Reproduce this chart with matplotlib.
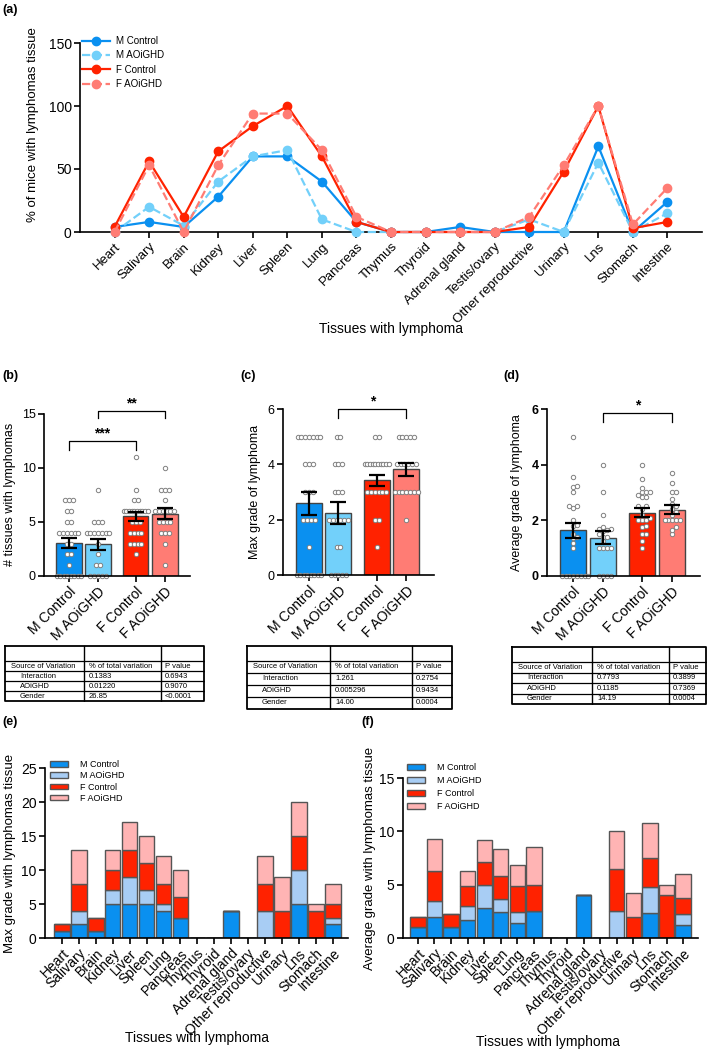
import numpy as np
import matplotlib
matplotlib.use("Agg")
import matplotlib.pyplot as plt
from matplotlib.patches import Patch

plt.rcParams['font.family'] = ['Liberation Sans', 'DejaVu Sans']

# ---- data ----
tissues = ["Heart", "Salivary", "Brain", "Kidney", "Liver", "Spleen", "Lung", "Pancreas",
           "Thymus", "Thyroid", "Adrenal gland", "Testis/ovary", "Other reproductive",
           "Urinary", "Lns", "Stomach", "Intestine"]
groups = ["M Control", "M AOiGHD", "F Control", "F AOiGHD"]

# (a) % of mice with lymphoma per tissue
pct_m_ctrl = [4, 8, 4, 28, 60, 60, 40, 8, 0, 0, 4, 0, 0, 0, 68, 0, 24]
pct_m_aoi = [0, 20, 5, 40, 60, 65, 10, 0, 0, 0, 0, 0, 10, 0, 55, 0, 15]
pct_f_ctrl = [4, 56, 12, 64, 84, 100, 60, 8, 0, 0, 0, 0, 4, 48, 100, 3, 8]
pct_f_aoi = [0, 53, 0, 53, 94, 94, 65, 12, 0, 0, 0, 0, 12, 53, 100, 6, 35]

# (b) number of tissues with lymphomas
b_mean = [3.05, 2.95, 5.53, 5.78]
b_sem = [0.5, 0.52, 0.43, 0.5]
b_m_ctrl = [7, 7, 7, 6, 6, 5, 5, 4, 4, 4, 4, 4, 4, 3, 3, 2, 2, 1, 0, 0, 0, 0, 0, 0, 0, 0]
b_m_aoi = [8, 5, 5, 5, 4, 4, 4, 4, 4, 4, 4, 3, 2, 1, 1, 0, 0, 0, 0, 0]
b_f_ctrl = [11, 8, 7, 7, 6, 6, 6, 6, 6, 6, 6, 6, 6, 6, 5, 5, 5, 4, 4, 4, 4, 3, 3, 3, 3, 2]
b_f_aoi = [10, 8, 8, 8, 7, 6, 6, 6, 6, 6, 6, 5, 5, 5, 5, 4, 4, 4, 3, 1]

# (c) max grade of lymphoma
c_mean = [2.59, 2.25, 3.43, 3.82]
c_sem = [0.41, 0.39, 0.2, 0.23]
c_m_ctrl = [5] * 7 + [4] * 3 + [3] * 3 + [2] * 4 + [1] + [0] * 8
c_m_aoi = [5] * 2 + [4] * 3 + [3] * 3 + [2] * 6 + [1] * 2 + [0] * 5
c_f_ctrl = [5] * 2 + [4] * 10 + [3] * 6 + [2] * 2 + [1]
c_f_aoi = [5] * 5 + [4] * 6 + [3] * 7 + [2]

# (d) average grade of lymphoma
d_mean = [1.64, 1.37, 2.28, 2.38]
d_sem = [0.28, 0.23, 0.16, 0.17]
d_m_ctrl = [5.0, 3.55, 3.25, 3.2, 3.0, 2.5, 2.5, 2.45, 2.0, 1.85, 1.8, 1.5, 1.4, 1.35,
            1.2, 1.0, 0, 0, 0, 0, 0, 0, 0, 0]
d_m_aoi = [4.0, 3.0, 2.2, 1.75, 1.7, 1.7, 1.65, 1.6, 1.5, 1.4, 1.4, 1.25, 1.0, 1.0,
           1.0, 1.0, 0, 0, 0, 0]
d_f_ctrl = [4.0, 3.5, 3.15, 3.0, 3.0, 3.0, 2.9, 2.85, 2.85, 2.5, 2.5, 2.4, 2.2, 2.1,
            2.0, 2.0, 2.0, 1.8, 1.75, 1.5, 1.5, 1.25, 1.0]
d_f_aoi = [3.7, 3.33, 3.0, 3.0, 2.75, 2.6, 2.5, 2.4, 2.3, 2.2, 2.0, 2.0, 2.0, 2.0,
           2.0, 1.75, 1.67, 1.5]

# two-way ANOVA tables
tbl_header = ["Source of Variation", "% of total variation", "P value"]
tbl_b = [["Interaction", "0.1383", "0.6943"], ["AOiGHD", "0.01220", "0.9070"],
         ["Gender", "26.85", "<0.0001"]]
tbl_c = [["Interaction", "1.261", "0.2754"], ["AOiGHD", "0.005296", "0.9434"],
         ["Gender", "14.00", "0.0004"]]
tbl_d = [["Interaction", "0.7793", "0.3899"], ["AOiGHD", "0.1185", "0.7369"],
         ["Gender", "14.19", "0.0004"]]

# (e) max grade, stacked
e_m_ctrl = [1, 2, 1, 5, 5, 5, 4, 3, 0, 0, 4, 0, 0, 0, 5, 0, 2]
e_m_aoi = [0, 2, 0, 2, 4, 2, 1, 0, 0, 0, 0, 0, 4, 0, 5, 0, 1]
e_f_ctrl = [1, 4, 2, 3, 4, 4, 3, 3, 0, 0, 0, 0, 4, 4, 5, 4, 2]
e_f_aoi = [0, 5, 0, 3, 4, 4, 4, 4, 0, 0, 0, 0, 4, 5, 5, 1, 3]

# (f) average grade, stacked
f_m_ctrl = [1, 2, 1, 1.67, 2.85, 2.45, 1.45, 2.5, 0, 0, 4, 0, 0, 0, 2.35, 0, 1.25]
f_m_aoi = [0, 1.5, 0, 1.3, 2.1, 1.2, 1.0, 0, 0, 0, 0, 0, 2.5, 0, 2.4, 0, 1.0]
f_f_ctrl = [1, 2.75, 1.25, 1.9, 2.2, 2.2, 2.4, 2.5, 0, 0, 0, 0, 4.0, 2.0, 2.75, 4.0, 1.5]
f_f_aoi = [0, 3.05, 0, 1.45, 2.05, 2.45, 1.95, 3.5, 0, 0, 0, 0, 3.5, 2.2, 3.3, 1.0, 2.25]

# ---- colours ----
c_mc, c_ma, c_fc, c_fa = "#0A90F0", "#72D0FA", "#FF2200", "#FF7C74"
bar_cols = [c_mc, c_ma, c_fc, c_fa]
stack_cols = ["#0A90F0", "#A8CDF4", "#FF2200", "#FFB4B4"]

W, H = 709, 1049
fig = plt.figure(figsize=(W / 100, H / 100), dpi=100)


def px_axes(l, t, r, b):
    return fig.add_axes([l / W, 1 - b / H, (r - l) / W, (b - t) / H])


def ftext(x, y, s, **kw):
    fig.text(x / W, 1 - y / H, s, **kw)


def style(ax, lw=1.2, size=9, bold=False):
    for s in ["top", "right"]:
        ax.spines[s].set_visible(False)
    for s in ["left", "bottom"]:
        ax.spines[s].set_linewidth(lw)
    ax.tick_params(width=lw, length=4, labelsize=size, pad=2)
    if bold:
        for lab in ax.get_yticklabels():
            lab.set_fontweight("bold")


def rot_labels(ax, labels, size):
    ax.set_xticklabels(labels, rotation=45, ha="right", va="top",
                       rotation_mode="anchor", fontsize=size)


# ---- (a) line chart ----
ax = px_axes(80, 43, 702, 232)
x = np.arange(len(tissues))
lines = [(pct_m_ctrl, c_mc, "-"), (pct_m_aoi, c_ma, "--"),
         (pct_f_ctrl, c_fc, "-"), (pct_f_aoi, c_fa, "--")]
for (vals, col, ls), lab in zip(lines, groups):
    ax.plot(x, vals, ls, color=col, lw=1.6, marker="o", ms=6, clip_on=False, label=lab,
            zorder=3)
ax.set_xlim(-1, 17)
ax.set_ylim(0, 150)
ax.set_yticks([0, 50, 100, 150])
ax.set_xticks(x)
style(ax, size=10)
rot_labels(ax, tissues, 9.5)
ax.legend(loc="upper left", bbox_to_anchor=(82 / W, 1 - 36 / H), bbox_transform=fig.transFigure,
          frameon=False, fontsize=7, handlelength=2.9, handletextpad=0.6, labelspacing=0.45,
          borderpad=0, borderaxespad=0)
ftext(33, 125, "% of mice with lymphomas tissue", rotation=90, ha="center", va="center",
      fontsize=9.5)
ftext(391, 329, "Tissues with lymphoma", ha="center", va="center", fontsize=10)


# ---- (b)-(d) bar + dot plots ----
def tie_spread(ax, xc, vals, dd=3.8, maxw=12.0):
    T = ax.transData
    xs, ys = [], []
    for v in sorted(set(vals), reverse=True):
        n = vals.count(v)
        step = dd if n < 2 else min(dd, 2 * maxw / (n - 1))
        px, py = T.transform((xc, v))
        for i in range(n):
            xs.append(px + (i - (n - 1) / 2) * step)
            ys.append(py)
    return T.inverted().transform(np.column_stack([xs, ys]))


def swarm(ax, xc, vals, dd=3.8):
    T = ax.transData
    placed = []
    for v in sorted(vals):
        px, py = T.transform((xc, v))
        k = 0
        off = None
        while off is None:
            for c in ([0.0] if k == 0 else [k * dd, -k * dd]):
                if all((px + c - qx) ** 2 + (py - qy) ** 2 >= (dd * 0.92) ** 2 for qx, qy in placed):
                    off = c
                    break
            k += 1
        placed.append((px + off, py))
    return T.inverted().transform(np.array(placed))


bar_pos = np.array([0, 1, 2.3, 3.3])


def bar_panel(box, means, sems, pts, ylim, yticks, xlim, use_swarm=False, bold=False):
    ax = px_axes(*box)
    ax.set_xlim(xlim)
    ax.set_ylim(ylim)
    ax.bar(bar_pos, means, width=0.88, color=bar_cols, edgecolor="#444444", linewidth=1,
           zorder=1)
    for xc, vals in zip(bar_pos, pts):
        xy = swarm(ax, xc, vals) if use_swarm else tie_spread(ax, xc, vals)
        ax.scatter(xy[:, 0], xy[:, 1], s=10, facecolor="white", edgecolor="#808080",
                   linewidth=0.7, zorder=2, clip_on=False)
    ax.errorbar(bar_pos, means, yerr=sems, fmt="none", ecolor="black", elinewidth=1.6,
                capsize=5.5, capthick=1.6, zorder=3)
    ax.set_yticks(yticks)
    ax.set_xticks(bar_pos)
    style(ax, size=9, bold=bold)
    rot_labels(ax, groups, 10)
    return ax


def bracket(ax, x1, x2, y, drop, text, ty):
    ax.plot([x1, x1, x2, x2], [y - drop, y, y, y - drop], color="black", lw=0.9,
            clip_on=False)
    ax.text((x1 + x2) / 2, ty, text, ha="center", va="center", fontsize=10,
            fontweight="bold")


axb = bar_panel((44, 414, 190, 576), b_mean, b_sem, [b_m_ctrl, b_m_aoi, b_f_ctrl, b_f_aoi],
                (0, 15), [0, 5, 10, 15], (-0.86, 4.17))
bracket(axb, 0, 2.3, 12.5, 0.8, "***", 13.2)
bracket(axb, 1, 3.3, 15.3, 0.7, "**", 16.0)
ftext(10, 494, "# tissues with lymphomas", rotation=90, ha="center", va="center", fontsize=9)

axc = bar_panel((283, 409, 434, 575), c_mean, c_sem, [c_m_ctrl, c_m_aoi, c_f_ctrl, c_f_aoi],
                (0, 6), [0, 2, 4, 6], (-0.88, 4.24))
bracket(axc, 1, 3.3, 6.0, 0.33, "*", 6.28)
ftext(255, 492, "Max grade of lymphoma", rotation=90, ha="center", va="center", fontsize=9)

axd = bar_panel((547, 409, 700, 576), d_mean, d_sem, [d_m_ctrl, d_m_aoi, d_f_ctrl, d_f_aoi],
                (0, 6), [0, 2, 4, 6], (-0.87, 4.23), use_swarm=True, bold=True)
bracket(axd, 1, 3.3, 5.86, 0.33, "*", 6.14)
ftext(517, 493, "Average grade of lymphoma", rotation=90, ha="center", va="center", fontsize=9)


# ---- ANOVA tables ----
def draw_table(x0, x1, c1, c2, ytop, yhdr, ybot, rows):
    ax = px_axes(x0 - 1, ytop - 1, x1 + 1, ybot + 1)
    ax.set_xlim(x0 - 1, x1 + 1)
    ax.set_ylim(ybot + 1, ytop - 1)
    ax.axis("off")
    ax.plot([x0, x1, x1, x0, x0], [ytop, ytop, ybot, ybot, ytop], color="black", lw=1.3)
    for cx in (c1, c2):
        ax.plot([cx, cx], [ytop, ybot], color="black", lw=1.0)
    edges = np.linspace(yhdr, ybot, len(rows) + 2)
    for yy in edges[:-1]:
        ax.plot([x0, x1], [yy, yy], color="black", lw=0.9)
    allrows = [tbl_header] + rows
    for i, r in enumerate(allrows):
        yc = (edges[i] + edges[i + 1]) / 2
        ax.text(x0 + (6 if i == 0 else 15), yc, r[0], fontsize=5.5, va="center")
        ax.text(c1 + 5, yc, r[1], fontsize=5.5, va="center")
        ax.text(c2 + 4, yc, r[2], fontsize=5.5, va="center")


draw_table(5, 204, 84, 161, 646, 661, 701, tbl_b)
draw_table(247, 452, 330, 412, 646, 661, 709, tbl_c)
draw_table(512, 706, 592, 669, 647, 662, 704, tbl_d)


# ---- (e), (f) stacked bars ----
def stack_panel(box, layers, ylim, yticks, xlim, leg_xy, leg_sp):
    ax = px_axes(*box)
    bottom = np.zeros(len(tissues))
    for vals, col, lab in zip(layers, stack_cols, groups):
        ax.bar(x, vals, 0.92, bottom=bottom, color=col, edgecolor="#555555", linewidth=1.0,
               label=lab)
        bottom += np.array(vals)
    ax.set_xlim(xlim)
    ax.set_ylim(ylim)
    ax.set_yticks(yticks)
    ax.set_xticks(x)
    style(ax, size=10)
    rot_labels(ax, tissues, 10)
    handles = [Patch(facecolor=c, edgecolor="#555555", linewidth=1.0) for c in stack_cols]
    ax.legend(handles, groups, loc="upper left",
              bbox_to_anchor=(leg_xy[0] / W, 1 - leg_xy[1] / H), bbox_transform=fig.transFigure,
              frameon=False, fontsize=6.5, handlelength=2.0, handleheight=0.55,
              handletextpad=1.3, labelspacing=leg_sp, borderpad=0, borderaxespad=0)
    return ax


stack_panel((45, 768, 348, 938), [e_m_ctrl, e_m_aoi, e_f_ctrl, e_f_aoi], (0, 25),
            [0, 5, 10, 15, 20, 25], (-1.0, 16.9), (50, 760), 0.25)
ftext(10, 853, "Max grade with lymphomas tissue", rotation=90, ha="center", va="center",
      fontsize=9.5)
ftext(197, 1038, "Tissues with lymphoma", ha="center", va="center", fontsize=10)

stack_panel((403, 778, 698, 938), [f_m_ctrl, f_m_aoi, f_f_ctrl, f_f_aoi], (0, 15),
            [0, 5, 10, 15], (-0.9, 16.9), (407, 763), 0.45)
ftext(370, 858, "Average grade with lymphomas tissue", rotation=90, ha="center", va="center",
      fontsize=9.5)
ftext(548, 1042, "Tissues with lymphoma", ha="center", va="center", fontsize=10)

# panel letters
for lx, ly, s in [(2, 10, "(a)"), (2, 376, "(b)"), (240, 376, "(c)"), (503, 376, "(d)"),
                  (2, 722, "(e)"), (361, 722, "(f)")]:
    ftext(lx, ly, s, ha="left", va="center", fontsize=9, fontweight="bold")

fig.savefig("out.png", dpi=100)
